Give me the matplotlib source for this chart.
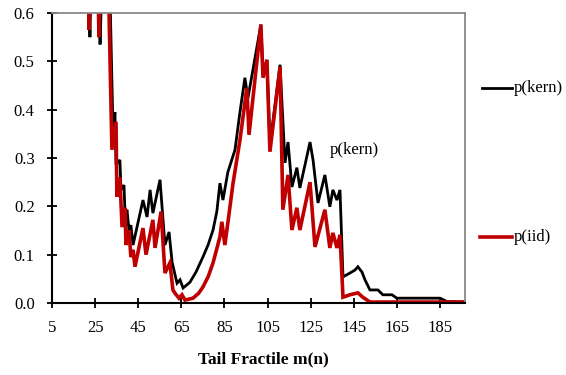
import matplotlib
matplotlib.use("Agg")
import matplotlib.pyplot as plt
from matplotlib.lines import Line2D

plt.rcParams['font.family'] = ['Liberation Serif', 'DejaVu Serif']

# tail fractile m(n) and p-values
m_kern = [5, 21.6, 22.6, 23.5, 25.9, 27.3, 28.7, 31.6, 33.3, 34.2, 34.7, 36.5, 37.0, 38.4,
          38.9, 39.8, 40.7, 41.6, 42.6, 47.2, 49.1, 50.5, 51.8, 55.1, 57.4, 59.3, 60.7,
          62.1, 63.0, 64.4, 65.8, 69.0, 71.8, 75.0, 77.4, 79.7, 81.5, 82.9, 84.3, 86.6,
          89.9, 92.2, 94.5, 95.9, 101.9, 102.9, 104.7, 106.1, 110.8, 113.1, 114.5, 116.3,
          118.6, 120.0, 124.7, 126.1, 128.4, 131.6, 133.9, 135.3, 137.2, 138.6, 140.0,
          143.2, 145.5, 146.9, 148.8, 150.2, 152.5, 156.2, 158.5, 162.7, 165.0, 174.3,
          185.0, 188.2, 196.6]
p_kern = [2.0, 0.75, 0.55, 0.75, 0.75, 0.535, 0.75, 0.70, 0.358, 0.395, 0.286, 0.296,
          0.234, 0.244, 0.182, 0.193, 0.151, 0.161, 0.12, 0.213, 0.178, 0.234, 0.186,
          0.255, 0.12, 0.147, 0.085, 0.058, 0.041, 0.048, 0.031, 0.043, 0.064, 0.095,
          0.12, 0.151, 0.19, 0.248, 0.213, 0.271, 0.317, 0.395, 0.466, 0.424, 0.576,
          0.472, 0.503, 0.327, 0.493, 0.29, 0.333, 0.24, 0.28, 0.238, 0.333, 0.296,
          0.207, 0.265, 0.199, 0.234, 0.213, 0.234, 0.054, 0.062, 0.068, 0.075, 0.064,
          0.048, 0.027, 0.027, 0.017, 0.017, 0.010, 0.010, 0.010, 0.003, 0.002]

m_iid = [5, 21.6, 22.2, 23.1, 25.9, 26.8, 27.7, 31.0, 32.8, 34.7, 35.1, 36.5, 37.5, 38.9,
         39.3, 40.7, 41.6, 42.6, 43.5, 47.2, 48.6, 51.8, 52.8, 55.6, 57.4, 59.7, 61.1,
         62.1, 63.9, 65.3, 66.7, 70.4, 73.0, 75.0, 77.5, 79.7, 81.5, 82.9, 83.8, 85.2,
         87.0, 89.0, 92.2, 95.4, 96.4, 101.9, 102.9, 104.7, 106.1, 110.8, 112.1, 114.5,
         116.3, 118.6, 120.0, 124.7, 127.0, 131.6, 133.9, 135.3, 137.2, 138.6, 140.0,
         143.2, 146.9, 149.2, 152.5, 196.6]
p_iid = [2.0, 0.75, 0.565, 0.75, 0.75, 0.55, 0.75, 0.70, 0.317, 0.375, 0.22, 0.26,
         0.157, 0.197, 0.12, 0.151, 0.095, 0.11, 0.075, 0.155, 0.10, 0.172, 0.114, 0.189,
         0.062, 0.083, 0.027, 0.02, 0.01, 0.017, 0.006, 0.01, 0.02, 0.033, 0.055, 0.083,
         0.113, 0.137, 0.168, 0.12, 0.18, 0.248, 0.337, 0.445, 0.348, 0.576, 0.466,
         0.503, 0.313, 0.489, 0.193, 0.265, 0.151, 0.197, 0.151, 0.25, 0.116, 0.193,
         0.114, 0.145, 0.114, 0.141, 0.012, 0.017, 0.021, 0.012, 0.002, 0.002]

x_ticks = [5, 25, 45, 65, 85, 105, 125, 145, 165, 185]
y_ticks = [0.0, 0.1, 0.2, 0.3, 0.4, 0.5, 0.6]

red = '#C00000'

fig = plt.figure(figsize=(5.66, 3.75), dpi=100)
ax = fig.add_axes([52 / 566, 1 - 303 / 375, 413 / 566, 290 / 375])

ax.plot(m_kern, p_kern, color='black', lw=2.0, solid_joinstyle='miter')
ax.plot(m_iid, p_iid, color=red, lw=2.6, solid_joinstyle='miter')

ax.set_xlim(5, 196.6)
ax.set_ylim(0, 0.6)
ax.set_xticks(x_ticks)
ax.set_yticks(y_ticks)
ax.set_yticklabels([f"{v:.1f}" for v in y_ticks])
ax.tick_params(direction='inout', length=7, width=1.3, labelsize=12, colors='black')
ax.tick_params(axis='x', pad=9)
ax.tick_params(axis='y', pad=9)

for s in ['left', 'bottom']:
    ax.spines[s].set_color('black')
    ax.spines[s].set_linewidth(1.5)
for s in ['top', 'right']:
    ax.spines[s].set_color('#888888')
    ax.spines[s].set_linewidth(1.3)

ax.set_xlabel('Tail Fractile m(n)', fontsize=12.5, fontweight='bold')
ax.xaxis.set_label_coords(0.511, -0.168)

ax.text(134, 0.317, 'p(kern)', fontsize=12, va='center', ha='left')

# legend entries placed by hand, right of the plot
fig.add_artist(Line2D([482 / 566, 512 / 566], [1 - 88 / 375] * 2, color='black', lw=2.0))
fig.text(514 / 566, 1 - 88 / 375, 'p(kern)', fontsize=12, va='center', ha='left')
fig.add_artist(Line2D([480 / 566, 512 / 566], [1 - 237 / 375] * 2, color=red, lw=2.6))
fig.text(514 / 566, 1 - 237 / 375, 'p(iid)', fontsize=12, va='center', ha='left')

fig.savefig('out.png', dpi=100)
